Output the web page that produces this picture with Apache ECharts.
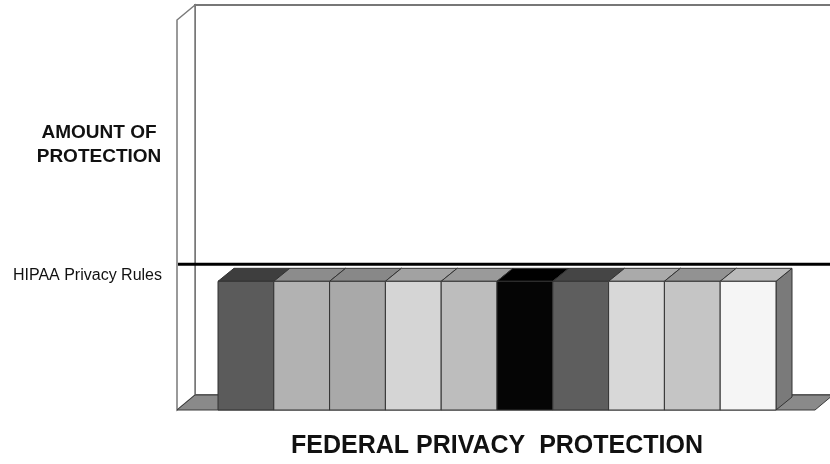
<!DOCTYPE html>
<html>
<head>
<meta charset="utf-8">
<script src="https://cdn.jsdelivr.net/npm/echarts@6/dist/echarts.min.js"></script>
<style>
  html, body { margin: 0; padding: 0; background: #fff; }
  #chart { width: 830px; height: 464px; }
</style>
</head>
<body>
<div id="chart"></div>
<script>
// data (all bars reach the same level, just under the HIPAA line)
const categories = ['1', '2', '3', '4', '5', '6', '7', '8', '9', '10'];
const protection = [33, 33, 33, 33, 33, 33, 33, 33, 33, 33];
const hipaaLevel = 37.4;
const hipaaLabel = 'HIPAA Privacy Rules';

// grey shades, front face / top face
const frontColors = ['#5b5b5b', '#b2b2b2', '#a9a9a9', '#d5d5d5', '#bdbdbd', '#050505', '#5e5e5e', '#d8d8d8', '#c5c5c5', '#f5f5f5'];
const topColors = ['#3e3e3e', '#8c8c8c', '#888888', '#a2a2a2', '#9a9a9a', '#000000', '#454545', '#aaaaaa', '#929292', '#bababa'];
const sideColor = '#7a7a7a';

const FONT = '"Liberation Sans", Arial, sans-serif';
const BAR_DX = 16, BAR_DY = 13;   // bar depth
const WALL_DX = 18, WALL_DY = 15; // wall / floor depth

const chart = echarts.init(document.getElementById('chart'));

// back wall, side wall, floor and the HIPAA line
function renderFrame(params, api) {
  const cs = params.coordSys;
  const W = api.getWidth();
  const x0 = cs.x - 41;
  const yTop = cs.y;
  const yBot = cs.y + cs.height;
  const xFloorR = cs.x + cs.width + 39;
  const yLine = api.coord([0, hipaaLevel])[1];
  return {
    type: 'group',
    children: [
      {
        type: 'rect',
        shape: { x: x0 + WALL_DX, y: yTop - WALL_DY, width: W, height: cs.height },
        style: { fill: '#fff', stroke: '#777', lineWidth: 2 }
      },
      {
        type: 'polygon',
        shape: { points: [[x0, yTop], [x0 + WALL_DX, yTop - WALL_DY], [x0 + WALL_DX, yBot - WALL_DY], [x0, yBot]] },
        style: { fill: '#fff', stroke: '#7a7a7a', lineWidth: 1.5 }
      },
      {
        type: 'polygon',
        shape: { points: [[x0, yBot], [x0 + WALL_DX, yBot - WALL_DY], [xFloorR + WALL_DX, yBot - WALL_DY], [xFloorR, yBot]] },
        style: { fill: '#8a8a8a', stroke: '#3a3a3a', lineWidth: 1 }
      },
      {
        type: 'line',
        shape: { x1: x0 + 1, y1: yLine, x2: W, y2: yLine },
        style: { stroke: '#000', lineWidth: 3 }
      }
    ]
  };
}

function renderBar(params, api) {
  const i = api.value(0);
  const base = api.coord([i, 0]);
  const top = api.coord([i, api.value(1)]);
  const w = api.size([1, 0])[0];
  const x = base[0] - w / 2;
  const y = top[1];
  const y0 = base[1];
  const k = params.dataIndex;
  const edge = { stroke: '#333', lineWidth: 1 };
  return {
    type: 'group',
    children: [
      {
        type: 'polygon', z2: k * 3,
        shape: { points: [[x + w, y], [x + w + BAR_DX, y - BAR_DY], [x + w + BAR_DX, y0 - BAR_DY], [x + w, y0]] },
        style: Object.assign({ fill: sideColor }, edge)
      },
      {
        type: 'polygon', z2: k * 3 + 1,
        shape: { points: [[x, y], [x + BAR_DX, y - BAR_DY], [x + w + BAR_DX, y - BAR_DY], [x + w, y]] },
        style: Object.assign({ fill: topColors[k] }, edge)
      },
      {
        type: 'rect', z2: k * 3 + 2,
        shape: { x: x, y: y, width: w, height: y0 - y },
        style: Object.assign({ fill: frontColors[k] }, edge)
      }
    ]
  };
}

const option = {
  backgroundColor: '#ffffff',
  animation: false,
  grid: { left: 218, right: 54, top: 20, bottom: 54, outerBoundsMode: 'none' },
  xAxis: {
    type: 'category',
    data: categories,
    axisLine: { show: false },
    axisTick: { show: false },
    axisLabel: { show: false },
    name: 'FEDERAL PRIVACY  PROTECTION',
    nameLocation: 'middle',
    nameGap: 24,
    nameTextStyle: { fontFamily: FONT, fontSize: 25, fontWeight: 'bold', color: '#111' }
  },
  yAxis: {
    type: 'value',
    min: 0,
    max: 100,
    axisLine: { show: false },
    axisTick: { show: false },
    splitLine: { show: false },
    axisLabel: {
      customValues: [hipaaLevel],
      formatter: () => hipaaLabel,
      margin: 56,
      verticalAlign: 'top',
      padding: [3, 0, 0, 0],
      fontFamily: FONT,
      fontSize: 16,
      color: '#111'
    }
  },
  graphic: [{
    type: 'text',
    x: 99,
    y: 121,
    style: {
      text: 'AMOUNT OF\nPROTECTION',
      font: 'bold 19px ' + FONT,
      fill: '#111',
      align: 'center',
      lineHeight: 24
    }
  }],
  series: [
    {
      name: 'frame',
      type: 'custom',
      z: 1,
      silent: true,
      renderItem: renderFrame,
      data: [[0, 0]]
    },
    {
      name: 'Federal privacy protection',
      type: 'custom',
      z: 2,
      renderItem: renderBar,
      data: categories.map((c, i) => [i, protection[i]])
    }
  ]
};

chart.setOption(option);
</script>
</body>
</html>
